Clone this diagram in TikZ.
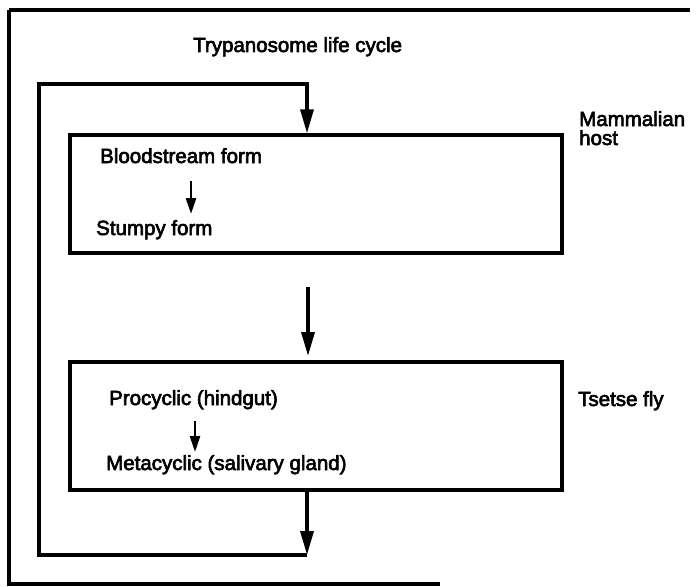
\documentclass[tikz,border=0pt]{standalone}
\usepackage{fontspec}
\setmainfont{Liberation Sans}
\newfontfamily\labfont{Liberation Sans}[FakeBold=3]
\usetikzlibrary{arrows.meta}

\tikzset{
  rule/.style={line width=3.4pt, line cap=butt, line join=miter},
  bigarrow/.style={rule, -{Triangle[length=24pt,width=13pt]}},
  smallarrow/.style={line width=2.6pt, -{Triangle[length=16pt,width=10pt]}},
  stagebox/.style={draw, rule, minimum width=492pt, inner sep=0pt},
  lab/.style={anchor=base west, inner sep=0pt, font=\labfont\fontsize{20.5pt}{19pt}\selectfont, align=left},
}

\begin{document}
\begin{tikzpicture}[x=1pt, y=-1pt]
  \useasboundingbox (0,0) rectangle (698,586);

  % outer frame, open on the right
  \coordinate (fbr) at (440,584);
  \coordinate (fbl) at (9,584);
  \coordinate (ftl) at (9,10);
  \coordinate (ftr) at (690,10);
  \draw[rule] (fbr) -- (fbl) -- (ftl);
  \draw[rule] (ftl) -- (ftr);

  % title
  \node[lab] (title) at (193,52) {Trypanosome life cycle};

  % host boxes
  \node[stagebox, minimum height=118pt] (box1) at (316,194) {};
  \node[stagebox, minimum height=128pt] (box2) at (316,426) {};

  % stage labels
  \node[lab] (bs) at (100,163) {Bloodstream form};
  \node[lab] (st) at (96,235) {Stumpy form};
  \node[lab] (pc) at (109,405) {Procyclic (hindgut)};
  \node[lab] (mc) at (106,470) {Metacyclic (salivary gland)};

  % host names
  \node[lab] (mam) at (579,145) {Mammalian\\host};
  \node[lab] (fly) at (578,406) {Tsetse fly};

  % arrows within each host
  \coordinate (a1s) at (191,181);
  \coordinate (a1e) at (191,214);
  \coordinate (a2s) at (195,421);
  \coordinate (a2e) at (195,452);
  \draw[smallarrow] (a1s) -- (a1e);
  \draw[smallarrow] (a2s) -- (a2e);

  % transmission mammal -> fly
  \coordinate (m1) at (308,287);
  \coordinate (m2) at (308,356);
  \draw[bigarrow] (m1) -- (m2);

  % return loop fly -> mammal
  \coordinate (lb) at (307,555);
  \coordinate (lt) at (307,84);
  \draw[bigarrow] (box2.south -| lb) -- (lb);
  \draw[bigarrow] (lb) -- (39,555) -- (39,84) -- (lt) -- (box1.north -| lt);
\end{tikzpicture}
\end{document}
